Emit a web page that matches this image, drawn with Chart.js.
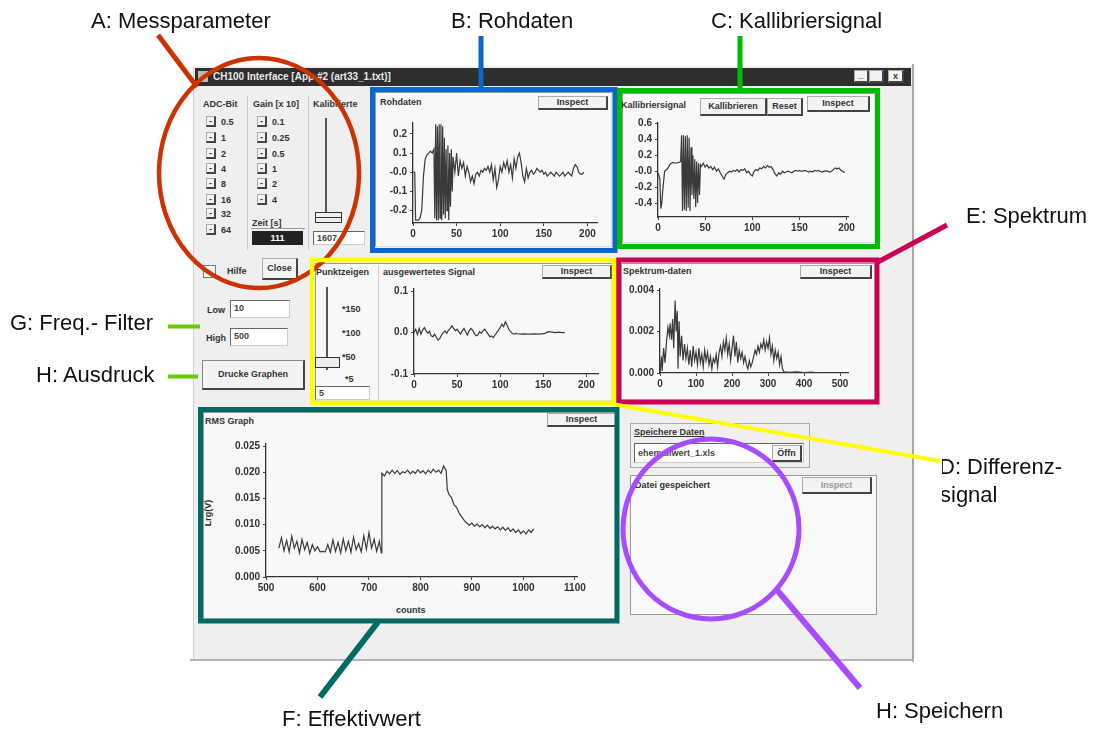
<!DOCTYPE html>
<html>
<head>
<meta charset="utf-8">
<title>Messprogramm Bedienoberfläche</title>
<script src="https://cdn.jsdelivr.net/npm/chart.js@4.4.1/dist/chart.umd.min.js"></script>
<style>
html, body { margin: 0; padding: 0; background: #fff; }
body { width: 1104px; height: 731px; position: relative; overflow: hidden; font-family: "Liberation Sans", Arial, sans-serif; }
#ui { position: absolute; left: 0; top: 0; width: 1104px; height: 731px; filter: blur(0.45px); }
.a { position: absolute; }
.t { position: absolute; font: bold 9px "Liberation Sans", Arial, sans-serif; color: #333; white-space: nowrap; line-height: 10px; }
.p { position: absolute; background: #f8f8f8; border: 1px solid #9a9a9a; border-right-color: #dcdcdc; border-bottom-color: #dcdcdc; box-sizing: border-box; }
.b { position: absolute; background: #f3f3f3; border: 1px solid #aaa; border-right: 2px solid #444; border-bottom: 2px solid #444; font: bold 9px "Liberation Sans", Arial, sans-serif; color: #333; text-align: center; box-sizing: border-box; white-space: nowrap; }
.f { position: absolute; background: #fff; border: 1px solid #666; border-right-color: #ccc; border-bottom-color: #ccc; font: bold 9px "Liberation Sans", Arial, sans-serif; color: #444; box-sizing: border-box; padding-left: 3px; white-space: nowrap; }
canvas { position: absolute; }
#ann { position: absolute; left: 0; top: 0; }
</style>
</head>
<body>

<div id="ui">
  <!-- Fenster -->
  <div class="a" style="left:193px;top:66px;width:720px;height:594px;background:#efefef;border-left:1px solid #d0d0d0;"></div>
  <div class="a" style="left:195px;top:68px;width:716px;height:18px;background:#2e2e2e;"></div>
  <div class="a" style="left:198px;top:71px;width:10px;height:11px;background:#bbb;"></div>
  <div class="t" style="left:213px;top:72px;color:#e8e8e8;font-size:10px;">CH100 Interface  [App #2 (art33_1.txt)]</div>
  <div class="b" style="left:854px;top:70px;width:15px;height:13px;line-height:9px;">_</div>
  <div class="b" style="left:869px;top:70px;width:15px;height:13px;"></div>
  <div class="b" style="left:888px;top:70px;width:16px;height:13px;line-height:10px;">x</div>
  <div class="a" style="left:912px;top:64px;width:2px;height:598px;background:#a8a8a8;"></div>
  <div class="a" style="left:190px;top:659px;width:724px;height:2px;background:#b4b4b4;"></div>

  <!-- A: Messparameter -->
  <div class="t" style="left:203px;top:99px;">ADC-Bit</div>
  <div class="t" style="left:253px;top:99px;">Gain [x 10]</div>
  <div class="t" style="left:313px;top:99px;">Kalibrierte</div>
  <div class="a" style="left:247px;top:96px;width:1px;height:154px;background:#c8c8c8;"></div>
  <div class="a" style="left:308px;top:96px;width:1px;height:154px;background:#c8c8c8;"></div>
  <div id="adcList"></div>
  <div id="gainList"></div>
  <div class="a" style="left:325px;top:118px;width:2px;height:95px;background:#555;"></div>
  <div class="a" style="left:315px;top:212px;width:27px;height:11px;border:1px solid #333;background:#eee;box-sizing:border-box;"></div>
  <div class="a" style="left:316px;top:217px;width:25px;height:1px;background:#333;"></div>
  <div class="t" style="left:252px;top:218px;">Zeit [s]</div>
  <div class="a" style="left:251px;top:228px;width:54px;height:1px;background:#999;"></div>
  <div class="a" style="left:252px;top:231px;width:51px;height:14px;background:#222;color:#fff;font:bold 9px 'Liberation Sans';text-align:center;line-height:14px;">111</div>
  <div class="f" style="left:313px;top:231px;width:52px;height:14px;line-height:12px;">1607</div>

  <!-- Hilfe / Close -->
  <div class="a" style="left:203px;top:265px;width:13px;height:13px;border:1px solid #777;background:#fff;box-sizing:border-box;"></div>
  <div class="t" style="left:227px;top:266px;">Hilfe</div>
  <div class="b" style="left:262px;top:258px;width:36px;height:22px;line-height:19px;">Close</div>

  <!-- G: Frequenzfilter -->
  <div class="t" style="left:207px;top:305px;">Low</div>
  <div class="f" style="left:230px;top:300px;width:60px;height:18px;line-height:15px;">10</div>
  <div class="t" style="left:206px;top:333px;">High</div>
  <div class="f" style="left:230px;top:328px;width:58px;height:18px;line-height:15px;">500</div>

  <!-- H: Ausdruck -->
  <div class="b" style="left:202px;top:360px;width:103px;height:30px;line-height:27px;border-left:1px solid #888;border-top:1px solid #888;">Drucke Graphen</div>

  <!-- B: Rohdaten -->
  <div class="p" style="left:375px;top:92px;width:237px;height:155px;"></div>
  <div class="t" style="left:380px;top:97px;">Rohdaten</div>
  <div class="b" style="left:538px;top:96px;width:70px;height:14px;line-height:11px;">Inspect</div>

  <!-- C: Kallibriersignal -->
  <div class="p" style="left:622px;top:93px;width:253px;height:150px;"></div>
  <div class="t" style="left:621px;top:100px;">Kallibriersignal</div>
  <div class="b" style="left:700px;top:98px;width:67px;height:18px;line-height:15px;">Kallibrieren</div>
  <div class="b" style="left:767px;top:98px;width:36px;height:18px;line-height:15px;">Reset</div>
  <div class="b" style="left:807px;top:96px;width:63px;height:16px;line-height:13px;">Inspect</div>

  <!-- D: Differenzsignal -->
  <div class="p" style="left:315px;top:263px;width:297px;height:138px;"></div>
  <div class="a" style="left:378px;top:265px;width:1px;height:135px;background:#d0d0d0;"></div>
  <div class="t" style="left:316px;top:267px;">Punktzeigen</div>
  <div class="t" style="left:383px;top:267px;">ausgewertetes Signal</div>
  <div class="b" style="left:542px;top:265px;width:70px;height:14px;line-height:11px;">Inspect</div>
  <div class="a" style="left:326px;top:287px;width:2px;height:83px;background:#555;"></div>
  <div class="a" style="left:315px;top:357px;width:25px;height:11px;border:1px solid #333;background:#eee;box-sizing:border-box;"></div>
  <div class="t" style="left:342px;top:304px;">*150</div>
  <div class="t" style="left:342px;top:328px;">*100</div>
  <div class="t" style="left:342px;top:352px;">*50</div>
  <div class="t" style="left:345px;top:374px;">*5</div>
  <div class="f" style="left:315px;top:386px;width:55px;height:14px;line-height:12px;">5</div>

  <!-- E: Spektrum -->
  <div class="p" style="left:621px;top:263px;width:254px;height:137px;"></div>
  <div class="t" style="left:623px;top:266px;">Spektrum-daten</div>
  <div class="b" style="left:800px;top:265px;width:72px;height:14px;line-height:11px;">Inspect</div>

  <!-- F: Effektivwert -->
  <div class="p" style="left:203px;top:412px;width:412px;height:207px;"></div>
  <div class="t" style="left:205px;top:416px;">RMS Graph</div>
  <div class="b" style="left:547px;top:413px;width:70px;height:14px;line-height:11px;">Inspect</div>
  <div class="t" style="left:396px;top:605px;">counts</div>
  <div class="t" style="left:195px;top:508px;transform:rotate(-90deg);">Lrg(V)</div>

  <!-- H: Speichern -->
  <div class="a" style="left:630px;top:423px;width:180px;height:45px;border:1px solid #aaa;box-sizing:border-box;"></div>
  <div class="t" style="left:634px;top:427px;text-decoration:underline;">Speichere Daten</div>
  <div class="f" style="left:634px;top:443px;width:170px;height:20px;line-height:18px;">ehemaliwert_1.xls</div>
  <div class="b" style="left:772px;top:445px;width:30px;height:17px;line-height:14px;">Öffn</div>
  <div class="a" style="left:630px;top:475px;width:247px;height:140px;border:1px solid #999;background:#f9f9f9;box-sizing:border-box;"></div>
  <div class="t" style="left:635px;top:480px;">Datei gespeichert</div>
  <div class="b" style="left:802px;top:477px;width:70px;height:17px;line-height:14px;color:#999;">Inspect</div>

  <canvas id="cRoh" width="240" height="129" style="left:373px;top:114px;"></canvas>
  <canvas id="cKal" width="246" height="123" style="left:618px;top:114px;"></canvas>
  <canvas id="cDif" width="240" height="114" style="left:374px;top:280px;"></canvas>
  <canvas id="cSpek" width="244" height="113" style="left:620px;top:280px;"></canvas>
  <canvas id="cRms" width="367" height="162" style="left:226px;top:435px;"></canvas>
</div>

<svg id="ann" width="1104" height="731" xmlns="http://www.w3.org/2000/svg">
  <defs>
    <clipPath id="clipD"><rect x="942" y="440" width="162" height="80"/></clipPath>
  </defs>
  <g fill="none" stroke-linecap="butt">
    <ellipse cx="259" cy="173" rx="100" ry="115" stroke="#cc3300" stroke-width="4.5"/>
    <line x1="158" y1="35" x2="197" y2="87" stroke="#cc3300" stroke-width="5"/>
    <rect x="372.5" y="89.5" width="242.5" height="161" stroke="#0a66cc" stroke-width="5"/>
    <line x1="481" y1="36" x2="481" y2="88" stroke="#0a66cc" stroke-width="5"/>
    <rect x="619.5" y="90.5" width="258" height="156" stroke="#00bb00" stroke-width="5"/>
    <line x1="740" y1="36" x2="740" y2="89" stroke="#00bb00" stroke-width="5"/>
    <rect x="618.5" y="260" width="258.5" height="142" stroke="#cc0055" stroke-width="5"/>
    <line x1="876" y1="263" x2="947" y2="225" stroke="#cc0055" stroke-width="5"/>
    <rect x="312" y="260" width="302" height="143" stroke="#ffff00" stroke-width="4.5"/>
    <line x1="612" y1="404" x2="940" y2="461" stroke="#ffff00" stroke-width="4"/>
    <rect x="200.5" y="409.5" width="416.5" height="211.5" stroke="#006b63" stroke-width="5"/>
    <line x1="378" y1="622" x2="320" y2="697" stroke="#006b63" stroke-width="6"/>
    <ellipse cx="711" cy="529" rx="88" ry="90" stroke="#a64dff" stroke-width="5"/>
    <line x1="777" y1="590" x2="860" y2="688" stroke="#a64dff" stroke-width="6"/>
    <line x1="168" y1="326.5" x2="200" y2="326.5" stroke="#66cc00" stroke-width="4"/>
    <line x1="168" y1="376.5" x2="198" y2="376.5" stroke="#66cc00" stroke-width="4"/>
  </g>
  <g font-family="Liberation Sans, Arial, sans-serif" font-size="22" fill="#111">
    <text x="91" y="28">A: Messparameter</text>
    <text x="451" y="28">B: Rohdaten</text>
    <text x="711" y="28">C: Kallibriersignal</text>
    <text x="966" y="223">E: Spektrum</text>
    <text x="10" y="330">G: Freq.- Filter</text>
    <text x="36" y="382">H: Ausdruck</text>
    <g clip-path="url(#clipD)">
      <text x="939" y="474">D: Differenz-</text>
      <text x="940" y="502">signal</text>
    </g>
    <text x="282" y="726">F: Effektivwert</text>
    <text x="876" y="718">H: Speichern</text>
  </g>
</svg>

<script>
// Bedienelemente
const adcBits = ['0.5', '1', '2', '4', '8', '16', '32', '64'];
const adcRows = [122, 138, 154, 169, 184, 200, 214, 230];
const gainValues = ['0.1', '0.25', '0.5', '1', '2', '4'];

// Achsenteilungen
const ticks200 = [0, 50, 100, 150, 200];
const ticks500 = [0, 100, 200, 300, 400, 500];
const ticksCounts = [500, 600, 700, 800, 900, 1000, 1100];
const rohTicksY = [-0.2, -0.1, 0, 0.1, 0.2];
const kalTicksY = [-0.4, -0.2, 0, 0.2, 0.4, 0.6];
const difTicksY = [-0.1, 0, 0.1];
const spekTicksY = [0, 0.002, 0.004];
const rmsTicksY = [0, 0.005, 0.01, 0.015, 0.02, 0.025];

// B: Rohdaten
const rohX = [0, 2, 3, 4, 6, 8, 10, 12, 14, 16,
  18, 20, 22, 24, 25, 26, 27, 28, 29, 30,
  31, 32, 33, 34, 35, 36, 37, 38, 39, 40,
  41, 42, 43, 44, 45, 46, 48, 50, 52, 54,
  56, 58, 60, 62, 64, 66, 68, 70, 72, 74,
  76, 78, 80, 82, 84, 86, 88, 90, 92, 94,
  96, 98, 100, 102, 104, 106, 108, 110, 112, 114,
  116, 118, 120, 122, 124, 126, 128, 130, 132, 134,
  136, 138, 140, 142, 144, 146, 148, 150, 152, 154,
  156, 158, 160, 162, 164, 166, 168, 170, 172, 174,
  176, 178, 180, 182, 184, 186, 188, 190, 192, 194, 196];
const rohY = [0.0, 0.0, -0.25, -0.25, -0.25, -0.24, -0.2, -0.02, 0.07, 0.09,
  0.10, 0.11, 0.10, 0.12, -0.24, 0.25, -0.25, 0.24, -0.25, 0.25,
  -0.24, 0.25, -0.25, 0.24, -0.22, 0.18, -0.24, 0.12, -0.20, 0.14,
  -0.25, 0.10, -0.18, 0.12, -0.10, 0.08, 0.0, 0.10, -0.02, 0.06,
  0.02, 0.05, -0.02, 0.03, 0.0, -0.05, -0.02, -0.06, -0.01, 0.0,
  -0.02, 0.01, 0.0, 0.02, 0.01, 0.03, 0.0, 0.04, -0.04, 0.02,
  -0.08, -0.04, 0.03, 0.0, 0.05, 0.02, 0.06, 0.0, 0.04, -0.03,
  0.07, 0.02, 0.08, 0.10, 0.05, -0.02, -0.05, 0.02, -0.03, 0.0,
  0.01, -0.01, 0.0, 0.02, 0.01, 0.0, 0.01, -0.01, 0.0, -0.02,
  -0.01, 0.0, -0.01, -0.02, 0.0, -0.01, -0.02, -0.01, 0.0, -0.02,
  -0.01, 0.0, -0.01, -0.02, 0.02, 0.04, 0.03, 0.0, -0.01, -0.01, 0.0];

// C: Kallibriersignal
const kalX = [0, 2, 3, 4, 5, 7, 10, 13, 16, 19,
  22, 24, 25, 26, 27, 28, 29, 30, 31, 32,
  33, 34, 35, 36, 37, 38, 39, 40, 41, 42,
  43, 44, 45, 46, 48, 50, 52, 54, 56, 58,
  60, 62, 64, 66, 68, 70, 72, 74, 76, 78,
  80, 82, 84, 86, 88, 90, 92, 94, 96, 98,
  100, 102, 104, 106, 108, 110, 112, 114, 116, 118,
  120, 122, 124, 126, 128, 130, 132, 134, 136, 138,
  140, 142, 144, 146, 148, 150, 152, 154, 156, 158,
  160, 162, 164, 166, 168, 170, 172, 174, 176, 178,
  180, 182, 184, 186, 188, 190, 192, 194, 196, 198];
const kalY = [-0.02, -0.1, -0.47, -0.4, -0.25, 0.0, 0.03, 0.09, 0.11, 0.10,
  0.11, 0.12, 0.45, -0.5, 0.45, -0.48, 0.44, -0.5, 0.45, -0.46,
  0.42, -0.5, 0.30, -0.30, 0.20, -0.35, 0.15, -0.45, 0.12, -0.40,
  0.10, -0.30, 0.08, 0.06, 0.10, 0.05, 0.08, 0.04, 0.06, 0.02,
  0.05, 0.0, 0.03, -0.02, -0.06, -0.10, -0.04, -0.02, 0.0, -0.01,
  0.01, 0.0, 0.02, -0.01, 0.02, 0.01, 0.03, -0.02, 0.0, -0.04,
  -0.06, 0.0, 0.02, 0.01, 0.04, 0.03, 0.06, 0.04, 0.07, 0.05,
  0.06, 0.02, -0.03, -0.06, -0.02, -0.04, 0.0, -0.02, -0.01, 0.0,
  -0.01, -0.02, 0.0, 0.01, 0.0, 0.01, 0.0, 0.0, 0.01, 0.0,
  -0.01, 0.0, -0.01, 0.01, 0.0, 0.01, 0.0, -0.01, 0.0, 0.0,
  0.0, -0.01, 0.0, 0.02, 0.04, 0.03, 0.04, 0.01, 0.0, -0.02];

// D: ausgewertetes Signal (Differenz)
const difX = [0, 2, 4, 6, 8, 10, 12, 14, 16, 18,
  20, 22, 24, 26, 28, 30, 32, 34, 36, 38,
  40, 42, 44, 46, 48, 50, 52, 54, 56, 58,
  60, 62, 64, 66, 68, 70, 72, 74, 76, 78,
  80, 82, 84, 86, 88, 90, 92, 94, 96, 98,
  100, 102, 104, 106, 108, 110, 112, 114, 116, 118,
  120, 124, 128, 132, 136, 140, 144, 148, 152, 156,
  160, 164, 168, 172, 175];
const difY = [0.0, 0.008, -0.005, 0.010, -0.004, 0.006, 0.012, 0.004, -0.002, 0.003,
  -0.008, -0.010, -0.004, -0.012, -0.018, -0.014, -0.006, 0.0, 0.004, -0.002,
  0.006, 0.010, 0.016, 0.010, 0.004, 0.008, 0.002, -0.004, 0.004, 0.010,
  0.002, -0.006, 0.004, 0.010, 0.006, -0.002, -0.008, -0.006, 0.002, -0.002,
  0.004, 0.008, 0.002, -0.004, -0.010, -0.008, -0.012, -0.006, 0.0, 0.006,
  0.012, 0.020, 0.014, 0.026, 0.018, 0.008, 0.002, -0.002, -0.004, -0.002,
  -0.003, -0.004, -0.003, -0.004, -0.004, -0.003, -0.004, -0.003, -0.002, 0.002,
  0.001, 0.0, 0.001, 0.0, 0.0];

// E: Spektrum-daten
const spekX = [0, 4, 6, 10, 14, 18, 22, 26, 28, 32,
  35, 38, 42, 45, 48, 50, 53, 56, 60, 64,
  68, 72, 76, 80, 84, 88, 92, 96, 100, 104,
  108, 112, 116, 120, 124, 128, 132, 136, 140, 144,
  148, 152, 156, 160, 164, 168, 172, 176, 180, 184,
  188, 192, 196, 200, 204, 208, 212, 216, 220, 224,
  228, 232, 236, 240, 244, 248, 252, 256, 260, 264,
  268, 272, 276, 280, 284, 288, 292, 296, 300, 304,
  308, 312, 316, 320, 324, 328, 332, 336, 340, 344,
  360, 380, 400, 420, 440];
const spekY = [0.0, 0.0008, 0.0001, 0.0012, 0.0005, 0.0015, 0.0022, 0.0018, 0.0024, 0.0016,
  0.0026, 0.0012, 0.0035, 0.0020, 0.0030, 0.0002, 0.0025, 0.0008, 0.0018, 0.0006,
  0.0014, 0.0007, 0.0012, 0.0004, 0.0011, 0.0003, 0.0013, 0.0006, 0.0010, 0.0004,
  0.0012, 0.0005, 0.0009, 0.0003, 0.0011, 0.0006, 0.0010, 0.0004, 0.0008, 0.0002,
  0.0007, 0.0005, 0.0009, 0.0003, 0.0010, 0.0013, 0.0008, 0.0015, 0.0011, 0.0017,
  0.0009, 0.0014, 0.0006, 0.0012, 0.0018, 0.0008, 0.0015, 0.0005, 0.0011, 0.0007,
  0.0010, 0.0005, 0.0008, 0.0004, 0.0002, 0.0006, 0.0003, 0.0005, 0.0008, 0.0011,
  0.0009, 0.0013, 0.0010, 0.0014, 0.0012, 0.0016, 0.0011, 0.0015, 0.0012, 0.0017,
  0.0009, 0.0013, 0.0006, 0.0011, 0.0007, 0.0010, 0.0004, 0.0008, 0.0002, 0.00005,
  0.00003, 0.00005, 0.00002, 0.00004, 0.0];

// F: RMS Graph (Effektivwert)
const rmsX = [525, 530, 535, 540, 545, 550, 555, 560, 565, 570,
  575, 580, 585, 590, 595, 600, 605, 610, 615, 620,
  625, 630, 635, 640, 645, 650, 655, 660, 665, 670,
  675, 680, 685, 690, 695, 700, 705, 710, 715, 720,
  724, 725, 730, 735, 740, 745, 750, 755, 760, 765,
  770, 775, 780, 785, 790, 795, 800, 805, 810, 815,
  820, 825, 830, 835, 840, 845, 850, 852, 855, 860,
  865, 870, 875, 880, 885, 890, 895, 900, 905, 910,
  915, 920, 925, 930, 935, 940, 945, 950, 955, 960,
  965, 970, 975, 980, 985, 990, 995, 1000, 1005, 1010,
  1015, 1020];
const rmsY = [0.0055, 0.0075, 0.0050, 0.0070, 0.0048, 0.0078, 0.0055, 0.0068, 0.0046, 0.0072,
  0.0052, 0.0066, 0.0045, 0.0062, 0.0050, 0.0058, 0.0048, 0.0049, 0.0048, 0.0062,
  0.0047, 0.0071, 0.0049, 0.0066, 0.0046, 0.0073, 0.0050, 0.0068, 0.0047, 0.0076,
  0.0052, 0.0064, 0.0048, 0.0079, 0.0053, 0.0085, 0.0055, 0.0072, 0.0049, 0.0068,
  0.0046, 0.0198, 0.0193, 0.0202, 0.0197, 0.0204, 0.0198, 0.0203, 0.0196, 0.0201,
  0.0199, 0.0204, 0.0197, 0.0202, 0.0198, 0.0205, 0.0199, 0.0203, 0.0197, 0.0204,
  0.0199, 0.0206, 0.0200, 0.0204, 0.0198, 0.0212, 0.0203, 0.0168, 0.0158, 0.0152,
  0.0138, 0.0133, 0.0122, 0.0115, 0.0108, 0.0103, 0.0099, 0.0103, 0.0097, 0.0101,
  0.0096, 0.0100, 0.0094, 0.0099, 0.0093, 0.0097, 0.0092, 0.0096, 0.0090, 0.0095,
  0.0089, 0.0094, 0.0087, 0.0092, 0.0085, 0.0090, 0.0083, 0.0088, 0.0082, 0.0090,
  0.0085, 0.0092];

// Listen links im Fenster
let adcHtml = '';
for (let i = 0; i < adcBits.length; i++) {
    let y = adcRows[i];
    adcHtml += '<div class="b" style="left:206px;top:' + (y - 6) + 'px;width:10px;height:11px;line-height:8px;">-</div>';
    adcHtml += '<div class="t" style="left:221px;top:' + (y - 5) + 'px;">' + adcBits[i] + '</div>';
}
document.getElementById('adcList').innerHTML = adcHtml;

let gainHtml = '';
for (let i = 0; i < gainValues.length; i++) {
    let y = adcRows[i];
    gainHtml += '<div class="b" style="left:257px;top:' + (y - 6) + 'px;width:10px;height:11px;line-height:8px;">-</div>';
    gainHtml += '<div class="t" style="left:272px;top:' + (y - 5) + 'px;">' + gainValues[i] + '</div>';
}
document.getElementById('gainList').innerHTML = gainHtml;

const tickFont = { family: 'Liberation Sans', size: 10, weight: 'bold' };

function makeChart(id, xs, ys, o) {
    let points = [];
    for (let i = 0; i < xs.length; i++) {
        points.push({ x: xs[i], y: ys[i] });
    }
    return new Chart(document.getElementById(id), {
        type: 'line',
        data: {
            datasets: [{
                data: points,
                borderColor: '#3a3a3a',
                borderWidth: 1.2,
                pointRadius: 0,
                tension: 0,
                fill: false
            }]
        },
        options: {
            responsive: false,
            animation: false,
            layout: { padding: { top: 8, right: 16, left: 0, bottom: 0 } },
            plugins: { legend: { display: false }, tooltip: { enabled: false } },
            scales: {
                x: {
                    type: 'linear',
                    min: o.xmin, max: o.xmax,
                    afterBuildTicks: s => { s.ticks = o.xticks.map(v => ({ value: v })); },
                    ticks: { autoSkip: false, maxRotation: 0, font: tickFont, color: '#333', padding: 2,
                        callback: v => String(Math.round(v)) },
                    grid: { drawOnChartArea: false, tickLength: 3, color: '#444' },
                    border: { color: '#333', width: 1.3 },
                    afterFit: s => { s.height = 20; }
                },
                y: {
                    min: o.ymin, max: o.ymax,
                    afterBuildTicks: s => { s.ticks = o.yticks.map(v => ({ value: v })); },
                    ticks: { autoSkip: false, font: tickFont, color: '#333', padding: 3,
                        callback: o.fmt },
                    grid: { drawOnChartArea: false, tickLength: 3, color: '#444' },
                    border: { color: '#333', width: 1.3 },
                    afterFit: s => { s.width = 40; }
                }
            }
        }
    });
}

makeChart('cRoh', rohX, rohY, { xmin: 0, xmax: 211, xticks: ticks200, ymin: -0.265, ymax: 0.257, yticks: rohTicksY,
    fmt: v => Math.abs(v) < 1e-9 ? '-0.0' : v.toFixed(1) });
makeChart('cKal', kalX, kalY, { xmin: 0, xmax: 201.5, xticks: ticks200, ymin: -0.575, ymax: 0.605, yticks: kalTicksY,
    fmt: v => Math.abs(v) < 1e-9 ? '-0.0' : v.toFixed(1) });
makeChart('cDif', difX, difY, { xmin: 0, xmax: 213.5, xticks: ticks200, ymin: -0.1, ymax: 0.105, yticks: difTicksY,
    fmt: v => Math.abs(v) < 1e-9 ? '0.0' : v.toFixed(1) });
makeChart('cSpek', spekX, spekY, { xmin: 0, xmax: 522, xticks: ticks500, ymin: 0, ymax: 0.00405, yticks: spekTicksY,
    fmt: v => v.toFixed(3) });
makeChart('cRms', rmsX, rmsY, { xmin: 500, xmax: 1104, xticks: ticksCounts, ymin: 0, ymax: 0.0254, yticks: rmsTicksY,
    fmt: v => v.toFixed(3) });
</script>
</body>
</html>
